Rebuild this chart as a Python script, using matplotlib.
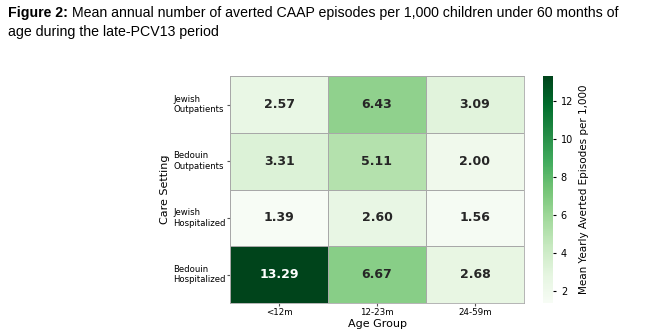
import numpy as np
import matplotlib
matplotlib.use("Agg")
import matplotlib.pyplot as plt
import seaborn as sns

care_settings = ["Jewish\nOutpatients", "Bedouin\nOutpatients",
                 "Jewish\nHospitalized", "Bedouin\nHospitalized"]
age_groups = ["<12m", "12-23m", "24-59m"]
averted = [
    [2.57, 6.43, 3.09],
    [3.31, 5.11, 2.00],
    [1.39, 2.60, 1.56],
    [13.29, 6.67, 2.68],
]

fig = plt.figure(figsize=(6.5, 3.34), dpi=100)
ax = fig.add_axes([0.354, 0.093, 0.452, 0.679])
cax = fig.add_axes([0.835, 0.093, 0.016, 0.679])

sns.heatmap(np.array(averted), ax=ax, cbar_ax=cax, cmap="Greens",
            annot=True, fmt=".2f",
            annot_kws={"fontsize": 9, "fontweight": "bold"},
            linewidths=0.5, linecolor="#a8a8a8",
            xticklabels=age_groups, yticklabels=care_settings,
            cbar_kws={"label": "Mean Yearly Averted Episodes per 1,000"})

ax.tick_params(axis="both", labelsize=6.3, length=2, color="#555555")
ax.set_yticklabels(care_settings, rotation=0, ha="left", fontsize=6.1)
ax.tick_params(axis="y", pad=39)
ax.tick_params(axis="x", pad=2)
ax.set_xlabel("Age Group", fontsize=8, labelpad=1)
ax.set_ylabel("Care Setting", fontsize=8, labelpad=2)
for s in ax.spines.values():
    s.set_visible(True)
    s.set_color("#a8a8a8")
    s.set_linewidth(0.6)

cax.tick_params(labelsize=7, length=2)
cax.yaxis.label.set_size(7.5)
cax.set_yticks([2, 4, 6, 8, 10, 12])

t1 = fig.text(0.012, 0.961, "Figure 2:", fontsize=10.2, fontweight="bold",
              family="Liberation Sans", va="center")
fig.canvas.draw()
bb = t1.get_window_extent().transformed(fig.transFigure.inverted())
fig.text(bb.x1 + 0.006, 0.961,
         "Mean annual number of averted CAAP episodes per 1,000 children under 60 months of",
         fontsize=10.2, family="Liberation Sans", va="center")
fig.text(0.012, 0.905, "age during the late-PCV13 period",
         fontsize=10.2, family="Liberation Sans", va="center")

fig.savefig("out.png", dpi=100)
